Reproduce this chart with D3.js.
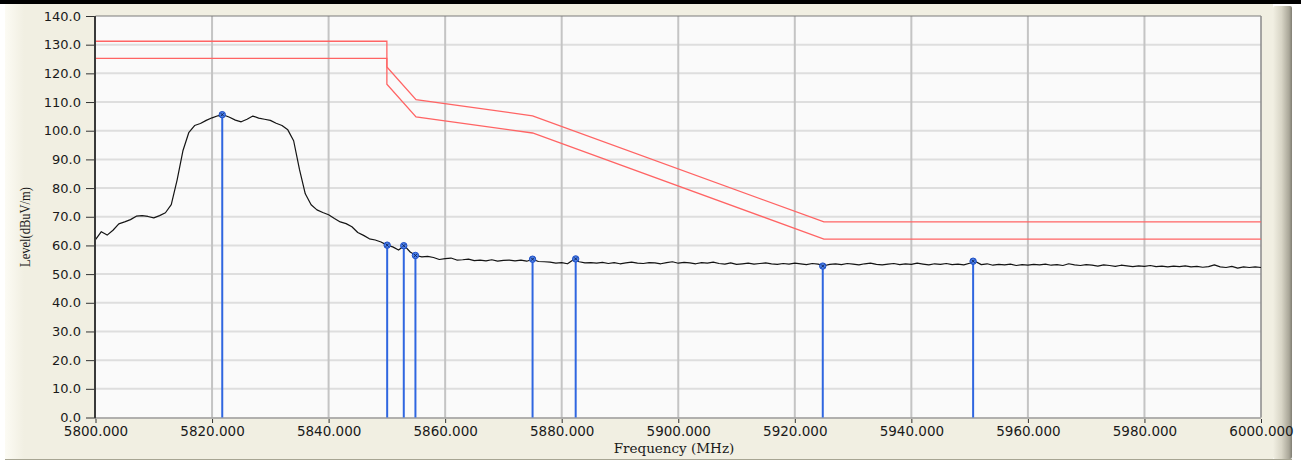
<!DOCTYPE html>
<html>
<head>
<meta charset="utf-8">
<script src="https://cdn.jsdelivr.net/npm/d3@7"></script>
<style>
  html, body { margin: 0; padding: 0; background: #fff; }
  svg { display: block; }
</style>
</head>
<body>
<svg id="chart" width="1301" height="461"></svg>
<script>
// ---------------- DATA ----------------
const xTickValues = [5800, 5820, 5840, 5860, 5880, 5900, 5920, 5940, 5960, 5980, 6000];
const yTickValues = [0, 10, 20, 30, 40, 50, 60, 70, 80, 90, 100, 110, 120, 130, 140];

// measured trace, one sample per MHz starting at 5800 MHz
const traceStartMHz = 5800;
const traceStepMHz = 1;
const traceLevel = [
  62.0, 64.8, 63.6, 65.3, 67.5, 68.2, 69.0, 70.2, 70.4, 70.1,
  69.6, 70.4, 71.4, 74.2, 82.8, 93.0, 99.3, 101.8, 102.5, 103.6,
  104.5, 105.2, 105.5, 104.7, 103.7, 103.1, 104.0, 105.1, 104.4, 104.0,
  103.6, 102.6, 101.8, 100.3, 96.5, 86.5, 78.0, 74.2, 72.4, 71.5,
  70.7, 69.4, 68.2, 67.6, 66.5, 64.5, 63.5, 62.3, 61.9, 61.2,
  60.1, 59.5, 58.4, 59.9, 57.7, 56.5, 56.0, 56.2, 55.8, 55.1,
  55.4, 55.6, 54.9, 55.0, 55.2, 54.7, 54.9, 54.6, 55.0, 54.5,
  54.8, 54.9, 54.6, 54.9, 54.5, 55.2, 54.4, 54.3, 54.2, 53.8,
  54.0, 53.6, 55.0, 54.3, 53.9, 54.0, 53.8, 54.1, 53.7, 54.0,
  53.6, 53.9, 54.2, 53.8, 53.7, 54.0, 53.9, 53.6, 54.0, 54.3,
  53.8, 54.1, 53.9, 53.6, 54.0, 53.8, 54.2, 53.7, 53.5, 53.9,
  53.4, 53.6, 53.8, 53.5, 53.7, 53.9, 53.6, 53.4, 53.7, 53.5,
  53.8, 53.6, 53.3, 53.7, 53.5, 52.9, 53.4, 53.6, 53.3, 53.7,
  53.5, 53.2, 53.6, 53.8, 53.4, 53.2, 53.5, 53.7, 53.3, 53.6,
  53.4, 53.8, 53.5, 53.2, 53.6, 53.4, 53.7, 53.3, 53.5, 53.2,
  53.8, 54.4, 53.3, 53.6, 53.1, 53.4, 53.2, 53.5, 53.0, 53.3,
  53.1, 53.4, 53.2, 53.5, 53.1, 53.3, 53.0, 53.6, 53.2, 53.0,
  53.3, 53.1, 52.8, 53.2, 53.0, 52.7, 53.1, 52.9, 52.6, 52.9,
  52.7, 53.0, 52.6, 52.8, 52.5, 52.8, 52.6, 52.9, 52.5, 52.7,
  52.4, 52.6, 53.2, 52.5, 52.3, 52.7, 52.1, 52.5, 52.3, 52.5,
  52.3
];

// limit lines
const limitPeakFreq  = [5800, 5850, 5850, 5855, 5875, 5925, 6000];
const limitPeakLevel = [131.2, 131.2, 122.2, 110.8, 105.2, 68.2, 68.2];
const limitAvgFreq   = [5800, 5850, 5850, 5855, 5875, 5925, 6000];
const limitAvgLevel  = [125.2, 125.2, 116.2, 104.8, 99.2, 62.2, 62.2];

// markers
const markerFreq  = [5821.75, 5850.05, 5852.9, 5854.9, 5875.0, 5882.4, 5924.8, 5950.6];
const markerLevel = [105.6, 60.1, 59.9, 56.5, 55.2, 55.3, 52.8, 54.5];

// ---------------- DRAW ----------------
const svg = d3.select("#chart");
const W = 1301, H = 461;
const plot = { left: 95.5, right: 1261, top: 16, bottom: 417.5 };

const x = d3.scaleLinear().domain([5800, 6000]).range([plot.left, plot.right]);
const y = d3.scaleLinear().domain([0, 140]).range([plot.bottom, plot.top]);

const defs = svg.append("defs");
const gl = defs.append("linearGradient").attr("id", "leftStrip").attr("x1", 0).attr("x2", 1);
gl.append("stop").attr("offset", 0).attr("stop-color", "#FCFBF4");
gl.append("stop").attr("offset", 1).attr("stop-color", "#F1EFE2");
const gr = defs.append("linearGradient").attr("id", "rightStrip").attr("x1", 0).attr("x2", 1);
gr.append("stop").attr("offset", 0).attr("stop-color", "#F1EFE2");
gr.append("stop").attr("offset", 0.45).attr("stop-color", "#D8D5C6");
gr.append("stop").attr("offset", 0.85).attr("stop-color", "#A9A698");
gr.append("stop").attr("offset", 1).attr("stop-color", "#7F7D72");

// window background
svg.append("rect").attr("x", 0).attr("y", 0).attr("width", W).attr("height", H).attr("fill", "#ffffff");
svg.append("rect").attr("x", 5).attr("y", 3).attr("width", 1268).attr("height", 456).attr("fill", "#F1EFE2");
svg.append("rect").attr("x", 5).attr("y", 3).attr("width", 19).attr("height", 456).attr("fill", "url(#leftStrip)");
svg.append("rect").attr("x", 1273).attr("y", 6).attr("width", 19).attr("height", 453).attr("rx", 2).attr("fill", "url(#rightStrip)");
svg.append("rect").attr("x", 0).attr("y", 0).attr("width", W).attr("height", 4).attr("fill", "#000000");
svg.append("line").attr("x1", 5).attr("x2", 1292).attr("y1", 459.5).attr("y2", 459.5).attr("stroke", "#A7A593").attr("stroke-width", 1);

// plot area
svg.append("rect")
  .attr("x", plot.left).attr("y", plot.top)
  .attr("width", plot.right - plot.left).attr("height", plot.bottom - plot.top)
  .attr("fill", "#FAFAFA");

// horizontal grid
svg.append("g").selectAll("line")
  .data(yTickValues.filter(v => v > 0 && v < 140))
  .join("line")
  .attr("x1", plot.left).attr("x2", plot.right)
  .attr("y1", d => y(d)).attr("y2", d => y(d))
  .attr("stroke", "#DEDEDE").attr("stroke-width", 2);

// vertical grid
svg.append("g").selectAll("line")
  .data(xTickValues.filter(v => v > 5800 && v < 6000))
  .join("line")
  .attr("x1", d => x(d)).attr("x2", d => x(d))
  .attr("y1", plot.top).attr("y2", plot.bottom)
  .attr("stroke", "#C4C4C4").attr("stroke-width", 2);

// plot border
svg.append("line").attr("x1", plot.left).attr("x2", plot.right).attr("y1", plot.top).attr("y2", plot.top)
  .attr("stroke", "#7A7A7A").attr("stroke-width", 1);
svg.append("line").attr("x1", plot.right).attr("x2", plot.right).attr("y1", plot.top).attr("y2", plot.bottom)
  .attr("stroke", "#8A8A8A").attr("stroke-width", 1.5);
svg.append("line").attr("x1", plot.left).attr("x2", plot.right).attr("y1", plot.bottom + 0.5).attr("y2", plot.bottom + 0.5)
  .attr("stroke", "#9A9A9A").attr("stroke-width", 1.5);

// limit lines
const lineGen = d3.line().x(d => x(d[0])).y(d => y(d[1]));
svg.append("path")
  .attr("d", lineGen(limitPeakFreq.map((f, i) => [f, limitPeakLevel[i]])))
  .attr("fill", "none").attr("stroke", "#FF6464").attr("stroke-width", 1.3);
svg.append("path")
  .attr("d", lineGen(limitAvgFreq.map((f, i) => [f, limitAvgLevel[i]])))
  .attr("fill", "none").attr("stroke", "#FF6464").attr("stroke-width", 1.3);

// marker stems
const markers = markerFreq.map((f, i) => ({ f, v: markerLevel[i] }));
svg.append("g").selectAll("line")
  .data(markers)
  .join("line")
  .attr("x1", d => x(d.f)).attr("x2", d => x(d.f))
  .attr("y1", d => y(d.v)).attr("y2", plot.bottom)
  .attr("stroke", "#2F66E0").attr("stroke-width", 2);

// trace
const tracePts = traceLevel.map((v, i) => [traceStartMHz + i * traceStepMHz, v]);
svg.append("path")
  .attr("d", lineGen(tracePts))
  .attr("fill", "none").attr("stroke", "#141414").attr("stroke-width", 1.2)
  .attr("stroke-linejoin", "round");

// marker heads
const heads = svg.append("g").selectAll("g").data(markers).join("g")
  .attr("transform", d => `translate(${x(d.f)},${y(d.v)})`);
heads.append("circle").attr("r", 3.2)
  .attr("fill", "#4A7FEA").attr("stroke", "#1F4FC4").attr("stroke-width", 1);
heads.append("path").attr("d", "M-1.5,-1.5L1.5,1.5M-1.5,1.5L1.5,-1.5")
  .attr("stroke", "#102050").attr("stroke-width", 0.9);

// y axis line
svg.append("line").attr("x1", plot.left - 0.5).attr("x2", plot.left - 0.5)
  .attr("y1", plot.top).attr("y2", plot.bottom + 1)
  .attr("stroke", "#3A3A3A").attr("stroke-width", 2);

// y axis ticks + labels
const yAxis = d3.axisLeft(y).tickValues(yTickValues).tickFormat(d3.format(".1f")).tickSize(8).tickPadding(5);
const yg = svg.append("g").attr("transform", `translate(${plot.left - 1.5},0)`).call(yAxis);
yg.select(".domain").remove();
yg.selectAll(".tick line").attr("stroke", "#333").attr("stroke-width", 1);
yg.selectAll(".tick text")
  .attr("fill", "#1a1a1a")
  .style("font-family", "'DejaVu Sans', Verdana, sans-serif")
  .style("font-size", "13px");

// x axis ticks + labels
const xAxis = d3.axisBottom(x).tickValues(xTickValues).tickFormat(d3.format(".3f")).tickSize(4).tickPadding(3);
const xg = svg.append("g").attr("transform", `translate(0,${plot.bottom + 1.5})`).call(xAxis);
xg.select(".domain").remove();
xg.selectAll(".tick line").attr("stroke", "#333").attr("stroke-width", 1);
xg.selectAll(".tick text")
  .attr("fill", "#1a1a1a")
  .style("font-family", "'DejaVu Sans', Verdana, sans-serif")
  .style("font-size", "13.5px");

// axis titles
svg.append("text")
  .attr("x", 674).attr("y", 453)
  .attr("text-anchor", "middle")
  .style("font-family", "'DejaVu Serif', serif")
  .style("font-size", "13.5px")
  .attr("fill", "#1a1a1a")
  .text("Frequency (MHz)");

svg.append("text")
  .attr("transform", "translate(30,227) rotate(-90)")
  .attr("text-anchor", "middle")
  .attr("textLength", 80).attr("lengthAdjust", "spacingAndGlyphs")
  .style("font-family", "'Liberation Serif', serif")
  .style("font-size", "14px")
  .attr("fill", "#1a1a1a")
  .text("Level(dBuV/m)");
</script>
</body>
</html>
